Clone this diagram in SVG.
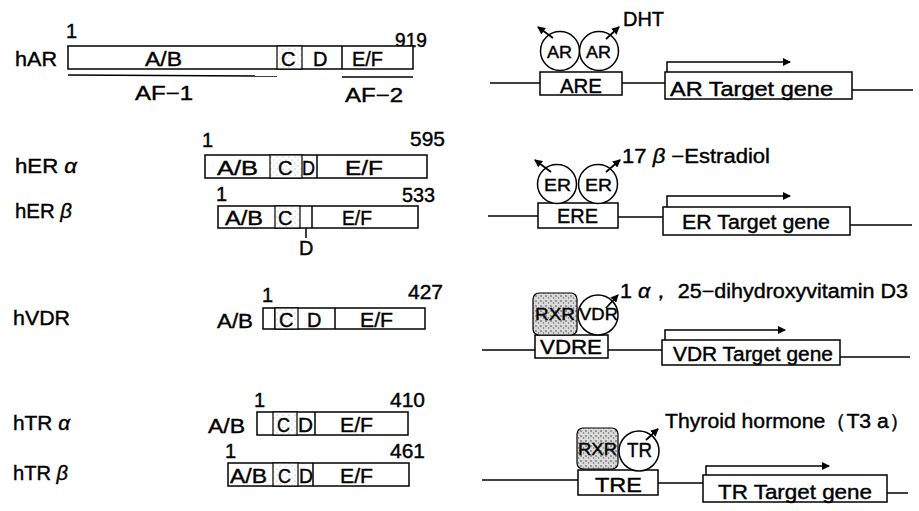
<svg xmlns="http://www.w3.org/2000/svg" width="919" height="511" viewBox="0 0 919 511">
<defs>
<pattern id="stip" width="6" height="6" patternUnits="userSpaceOnUse">
<rect width="6" height="6" fill="#fff"/>
<circle cx="1" cy="1" r="0.6" fill="#999"/>
<circle cx="4" cy="4" r="0.6" fill="#aaa"/>
</pattern>
<pattern id="rxr" width="5" height="5" patternUnits="userSpaceOnUse">
<rect width="5" height="5" fill="#d8d8d8"/>
<circle cx="1" cy="1" r="0.8" fill="#444"/>
<circle cx="3.5" cy="3" r="0.7" fill="#666"/>
<circle cx="2" cy="4.2" r="0.5" fill="#fff"/>
</pattern>
<marker id="ah" markerWidth="8" markerHeight="8" refX="7" refY="4" orient="auto" markerUnits="userSpaceOnUse">
<path d="M0,0 L8,4 L0,8 z" fill="#000"/>
</marker>
</defs>
<style>
text{font-family:"Liberation Sans",Arial,sans-serif;fill:#000;font-size:20px;stroke:#000;stroke-width:0.4}
.sm{font-size:17px}
.xs{font-size:16px}
.box{fill:#fff;stroke:#000;stroke-width:1.5}
.c{fill:url(#stip);stroke:#000;stroke-width:1.2}
.ln{stroke:#000;stroke-width:1.5;fill:none}
.dna{stroke:#000;stroke-width:1.5;fill:none}
.arr{stroke:#000;stroke-width:1.5;fill:none;marker-end:url(#ah)}
.tick{stroke:#000;stroke-width:1.8;fill:none;marker-end:url(#ah)}
.circ{fill:#fff;stroke:#000;stroke-width:1.5}
.rxr{fill:url(#rxr);stroke:#000;stroke-width:1.2}
.it{font-style:italic}
</style>
<rect width="919" height="511" fill="#fff"/>

<!-- hAR protein -->
<g id="hAR">
<text x="15" y="66" textLength="42" lengthAdjust="spacingAndGlyphs">hAR</text>
<text x="66" y="38">1</text>
<text x="395" y="47" textLength="32" lengthAdjust="spacingAndGlyphs">919</text>
<rect class="box" x="68" y="46" width="345" height="23"/>
<rect class="c" x="277" y="46" width="25" height="23"/>
<line class="ln" x1="342" y1="46" x2="342" y2="69"/>
<text x="145" y="66" textLength="37" lengthAdjust="spacingAndGlyphs">A/B</text>
<text x="281" y="66">C</text>
<text x="313" y="66">D</text>
<text x="352" y="66" textLength="31" lengthAdjust="spacingAndGlyphs">E/F</text>
<line class="ln" x1="68" y1="75" x2="277" y2="76"/>
<line class="ln" x1="342" y1="77" x2="413" y2="77"/>
<text x="135" y="100" textLength="58" lengthAdjust="spacingAndGlyphs">AF−1</text>
<text x="345" y="102" textLength="58" lengthAdjust="spacingAndGlyphs">AF−2</text>
</g>

<!-- hER alpha -->
<g id="hERa">
<text x="15" y="173" textLength="62" lengthAdjust="spacingAndGlyphs">hER <tspan class="it">α</tspan></text>
<text x="202" y="147">1</text>
<text x="410" y="146" textLength="35" lengthAdjust="spacingAndGlyphs">595</text>
<rect class="box" x="205" y="155" width="222" height="23"/>
<rect class="c" x="270" y="155" width="32" height="23"/>
<line class="ln" x1="317" y1="155" x2="317" y2="178"/>
<text x="217" y="175" textLength="41" lengthAdjust="spacingAndGlyphs">A/B</text>
<text x="278" y="175">C</text>
<text x="302" y="175" textLength="13" lengthAdjust="spacingAndGlyphs">D</text>
<text x="345" y="175" textLength="38" lengthAdjust="spacingAndGlyphs">E/F</text>
</g>

<!-- hER beta -->
<g id="hERb">
<text x="15" y="218" textLength="57" lengthAdjust="spacingAndGlyphs">hER <tspan class="it">β</tspan></text>
<text x="216" y="201">1</text>
<text x="402" y="202" textLength="33" lengthAdjust="spacingAndGlyphs">533</text>
<rect class="box" x="218" y="206" width="200" height="22"/>
<rect class="c" x="275" y="206" width="25" height="22"/>
<line class="ln" x1="312" y1="206" x2="312" y2="228"/>
<text x="225" y="225" textLength="38" lengthAdjust="spacingAndGlyphs">A/B</text>
<text x="278" y="225">C</text>
<text x="342" y="225" textLength="30" lengthAdjust="spacingAndGlyphs">E/F</text>
<line class="ln" x1="306" y1="228" x2="306" y2="238"/>
<text x="299" y="255">D</text>
</g>

<!-- hVDR -->
<g id="hVDR">
<text x="13" y="325" textLength="57" lengthAdjust="spacingAndGlyphs">hVDR</text>
<text x="217" y="328" textLength="36" lengthAdjust="spacingAndGlyphs">A/B</text>
<text x="262" y="302">1</text>
<text x="408" y="299" textLength="35" lengthAdjust="spacingAndGlyphs">427</text>
<rect class="box" x="263" y="308" width="162" height="21"/>
<line class="ln" x1="275" y1="308" x2="275" y2="329"/>
<rect class="c" x="275" y="308" width="23" height="21"/>
<line class="ln" x1="335" y1="308" x2="335" y2="329"/>
<text x="279" y="327">C</text>
<text x="307" y="327">D</text>
<text x="360" y="327" textLength="33" lengthAdjust="spacingAndGlyphs">E/F</text>
</g>

<!-- hTR alpha -->
<g id="hTRa">
<text x="13" y="430" textLength="57" lengthAdjust="spacingAndGlyphs">hTR <tspan class="it">α</tspan></text>
<text x="208" y="433" textLength="37" lengthAdjust="spacingAndGlyphs">A/B</text>
<text x="254" y="407">1</text>
<text x="390" y="407" textLength="35" lengthAdjust="spacingAndGlyphs">410</text>
<rect class="box" x="257" y="412" width="151" height="23"/>
<rect class="c" x="273" y="412" width="24" height="23"/>
<line class="ln" x1="315" y1="412" x2="315" y2="435"/>
<text x="277" y="432" textLength="13" lengthAdjust="spacingAndGlyphs">C</text>
<text x="298" y="432" textLength="15" lengthAdjust="spacingAndGlyphs">D</text>
<text x="340" y="432" textLength="33" lengthAdjust="spacingAndGlyphs">E/F</text>
</g>

<!-- hTR beta -->
<g id="hTRb">
<text x="13" y="480" textLength="55" lengthAdjust="spacingAndGlyphs">hTR <tspan class="it">β</tspan></text>
<text x="225" y="458">1</text>
<text x="390" y="458" textLength="35" lengthAdjust="spacingAndGlyphs">461</text>
<rect class="box" x="228" y="463" width="181" height="23"/>
<rect class="c" x="273" y="463" width="25" height="23"/>
<line class="ln" x1="313" y1="463" x2="313" y2="486"/>
<text x="230" y="483" textLength="37" lengthAdjust="spacingAndGlyphs">A/B</text>
<text x="278" y="483" textLength="13" lengthAdjust="spacingAndGlyphs">C</text>
<text x="299" y="483" textLength="14" lengthAdjust="spacingAndGlyphs">D</text>
<text x="340" y="483" textLength="33" lengthAdjust="spacingAndGlyphs">E/F</text>
</g>

<!-- connectors: DNA lines and transcription arrows -->
<g id="connectors">
<polyline class="dna" points="490,83 540,83"/>
<polyline class="dna" points="622,83 665,83"/>
<polyline class="dna" points="852,90 913,90"/>
<polyline class="arr" points="667,78 667,62 790,62"/>

<polyline class="dna" points="488,216 538,216"/>
<polyline class="dna" points="618,217 663,217"/>
<polyline class="dna" points="850,225 912,225"/>
<polyline class="arr" points="667,207 667,196 790,196"/>

<polyline class="dna" points="482,350 535,350"/>
<polyline class="dna" points="608,350 662,350"/>
<polyline class="dna" points="840,357 910,357"/>
<polyline class="arr" points="665,340 665,330 785,330"/>

<polyline class="dna" points="482,480 578,480"/>
<polyline class="dna" points="658,483 703,483"/>
<polyline class="dna" points="887,493 908,493"/>
<polyline class="arr" points="706,475 706,466 829,466"/>
</g>

<!-- AR complex -->
<g id="AR-complex">
<rect class="box" x="540" y="72" width="82" height="23"/>
<text x="560" y="93" textLength="42" lengthAdjust="spacingAndGlyphs">ARE</text>
<circle class="circ" cx="560" cy="51" r="19.5"/>
<circle class="circ" cx="599" cy="51" r="19.5"/>
<text class="sm" x="547" y="58" textLength="25" lengthAdjust="spacingAndGlyphs">AR</text>
<text class="sm" x="586" y="58" textLength="25" lengthAdjust="spacingAndGlyphs">AR</text>
<text x="623" y="26" textLength="41" lengthAdjust="spacingAndGlyphs">DHT</text>
</g>
<g id="AR-target">
<rect class="box" x="665" y="72" width="187" height="27"/>
<text x="670" y="96" textLength="163" lengthAdjust="spacingAndGlyphs">AR Target gene</text>
</g>

<!-- ER complex -->
<g id="ER-complex">
<rect class="box" x="538" y="203" width="80" height="25"/>
<text x="557" y="223" textLength="41" lengthAdjust="spacingAndGlyphs">ERE</text>
<circle class="circ" cx="557" cy="184" r="19.5"/>
<circle class="circ" cx="598" cy="184" r="19.5"/>
<text class="sm" x="544" y="191" textLength="27" lengthAdjust="spacingAndGlyphs">ER</text>
<text class="sm" x="585" y="191" textLength="27" lengthAdjust="spacingAndGlyphs">ER</text>
<text x="622" y="163" textLength="148" lengthAdjust="spacingAndGlyphs">17 <tspan class="it">β</tspan> −Estradiol</text>
</g>
<g id="ER-target">
<rect class="box" x="663" y="207" width="187" height="28"/>
<text x="682" y="229" textLength="148" lengthAdjust="spacingAndGlyphs">ER Target gene</text>
</g>

<!-- VDR complex -->
<g id="VDR-complex">
<rect class="box" x="535" y="335" width="73" height="23"/>
<text x="540" y="354" textLength="62" lengthAdjust="spacingAndGlyphs">VDRE</text>
<rect class="rxr" x="533" y="293" width="44" height="42" rx="6"/>
<text class="xs" x="535" y="320" textLength="40" lengthAdjust="spacingAndGlyphs">RXR</text>
<circle class="circ" cx="598" cy="315" r="20"/>
<text class="xs" x="579" y="320" textLength="39" lengthAdjust="spacingAndGlyphs">VDR</text>
<text x="620" y="298" textLength="288" lengthAdjust="spacingAndGlyphs">1 <tspan class="it">α</tspan>， 25−dihydroxyvitamin D3</text>
</g>
<g id="VDR-target">
<rect class="box" x="662" y="340" width="178" height="25"/>
<text x="673" y="361" textLength="160" lengthAdjust="spacingAndGlyphs">VDR Target gene</text>
</g>

<!-- TR complex -->
<g id="TR-complex">
<rect class="box" x="578" y="470" width="80" height="25"/>
<text x="595" y="492" textLength="47" lengthAdjust="spacingAndGlyphs">TRE</text>
<rect class="rxr" x="577" y="428" width="41" height="41" rx="6"/>
<text class="xs" x="578" y="455" textLength="39" lengthAdjust="spacingAndGlyphs">RXR</text>
<circle class="circ" cx="639" cy="451" r="20"/>
<text x="627" y="457" textLength="25" lengthAdjust="spacingAndGlyphs">TR</text>
<text x="665" y="428" textLength="245" lengthAdjust="spacingAndGlyphs">Thyroid hormone（T3 a）</text>
</g>
<g id="TR-target">
<rect class="box" x="703" y="475" width="184" height="27"/>
<text x="718" y="499" textLength="154" lengthAdjust="spacingAndGlyphs">TR Target gene</text>
</g>

<!-- ligand arrows (drawn over the receptor circles) -->
<g id="ligand-arrows">
<line class="tick" x1="553" y1="38" x2="538" y2="27"/>
<line class="tick" x1="606" y1="39" x2="619" y2="27"/>
<line class="tick" x1="551" y1="172" x2="535" y2="160"/>
<line class="tick" x1="606" y1="172" x2="620" y2="160"/>
<line class="tick" x1="606" y1="308" x2="618" y2="295"/>
<line class="tick" x1="646" y1="440" x2="658" y2="429"/>
</g>
</svg>
